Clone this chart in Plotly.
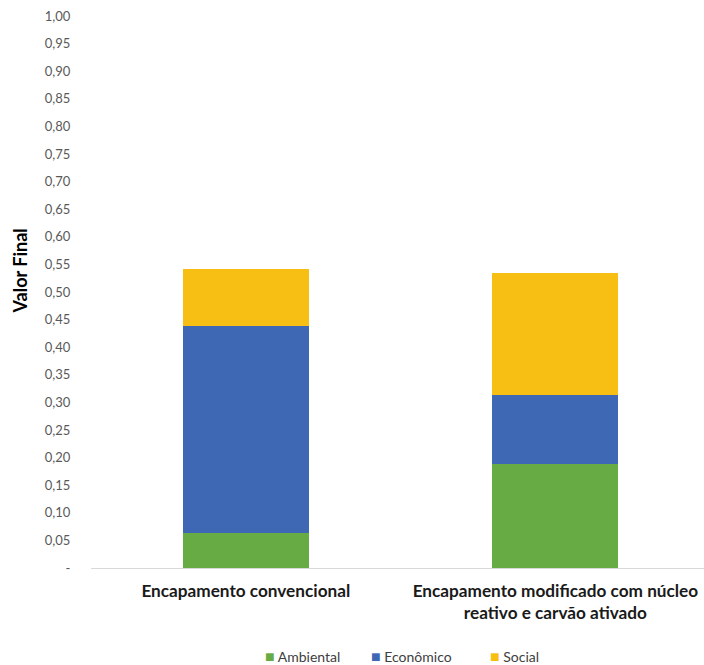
import plotly.graph_objects as go

# Data
categories = [
    "<b>Encapamento convencional</b>",
    "<b>Encapamento modificado com núcleo<br>reativo e carvão ativado</b>",
]
ambiental = [0.063, 0.188]
economico = [0.375, 0.125]
social = [0.104, 0.222]

tick_vals = [i / 20 for i in range(21)]
tick_text = ["-"] + [f"{v:.2f}".replace(".", ",") for v in tick_vals[1:]]

series = [
    ("Ambiental", ambiental, "#67AB45"),
    ("Econômico", economico, "#3E68B3"),
    ("Social", social, "#F7BF14"),
]

fig = go.Figure()
for name, vals, color in series:
    fig.add_trace(go.Bar(
        x=[0, 1], y=vals, name=name, showlegend=False,
        marker=dict(color=color, line=dict(width=0)),
        width=0.407,
    ))

# Legend row drawn as text items with coloured squares
legend_x = [263, 369, 488]
legend_items = [
    dict(
        text=f"<span style='color:{color};font-size:16px'>■</span> {name}",
        xref="paper", yref="paper",
        x=(px - 91) / 613, y=-(655 - 568) / 552,
        xanchor="left", yanchor="middle", showarrow=False,
        font=dict(size=14, color="#404040"),
    )
    for (name, _, color), px in zip(series, legend_x)
]

fig.update_layout(
    width=704, height=665,
    barmode="stack",
    plot_bgcolor="white", paper_bgcolor="white",
    margin=dict(l=91, r=0, t=16, b=97),
    font=dict(family="Lato, Open Sans, sans-serif", color="#595959", size=12),
    showlegend=False,
    xaxis=dict(
        range=[-0.5, 1.48], automargin=False,
        tickmode="array", tickvals=[0, 1], ticktext=categories,
        showline=True, linecolor="#D9D9D9", linewidth=1,
        ticks="outside", ticklen=7, tickcolor="rgba(0,0,0,0)",
        tickfont=dict(size=17.2, color="#1a1a1a"),
        showgrid=False, zeroline=False,
    ),
    yaxis=dict(
        range=[0, 1.0], automargin=False,
        tickmode="array", tickvals=tick_vals, ticktext=tick_text,
        showline=False, showgrid=False, zeroline=False,
        ticks="outside", ticklen=17, tickcolor="rgba(0,0,0,0)",
        tickfont=dict(size=13, color="#595959"),
    ),
    annotations=[dict(
        text="<b>Valor Final</b>", textangle=-90,
        xref="paper", yref="paper", x=-0.115, y=0.538,
        xanchor="center", yanchor="middle", showarrow=False,
        font=dict(size=18, color="#000000"),
    )] + legend_items,
)

fig.write_html("out.html")
